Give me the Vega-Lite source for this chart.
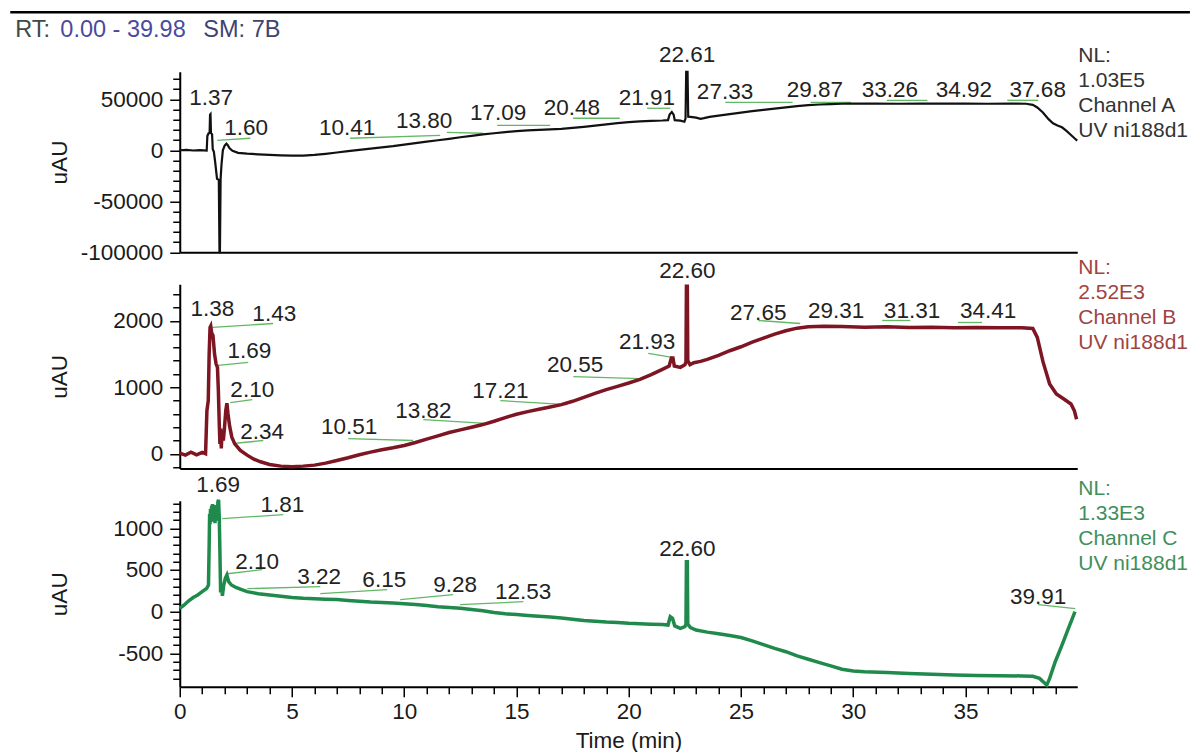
{
  "$schema": "https://vega.github.io/schema/vega-lite/v6.json",
  "background": "white",
  "padding": {"left": 8.75, "top": 10.75, "right": 0, "bottom": 0},
  "bounds": "flush",
  "spacing": 31.5,
  "config": {
    "font": "Liberation Sans",
    "view": {"stroke": null},
    "axis": {
      "grid": false,
      "domainColor": "#000000",
      "domainWidth": 2,
      "tickColor": "#000000",
      "tickWidth": 1.5,
      "labelFont": "Liberation Sans",
      "labelFontSize": 22.5,
      "labelColor": "#1a1a1a",
      "labelOverlap": false,
      "labelFlush": false,
      "titleFont": "Liberation Sans",
      "titleFontSize": 22.5,
      "titleFontWeight": "normal",
      "titleColor": "#1a1a1a"
    },
    "text": {"font": "Liberation Sans"}
  },
  "datasets": {
    "trA": [
      {"t":0,"v":0},{"t":0.3,"v":400},{"t":0.6,"v":-200},{"t":0.9,"v":200},{"t":1.2,"v":-300},{"t":1.23,"v":14000},{"t":1.28,"v":16500},{"t":1.33,"v":17000},{"t":1.35,"v":35000},{"t":1.37,"v":35500},{"t":1.39,"v":17000},{"t":1.44,"v":15500},{"t":1.47,"v":1000},{"t":1.52,"v":-1500},{"t":1.58,"v":-12000},{"t":1.66,"v":-28000},{"t":1.74,"v":-29000},{"t":1.77,"v":-100000},{"t":1.79,"v":-100000},{"t":1.82,"v":-28000},{"t":1.86,"v":-14000},{"t":1.92,"v":0},{"t":2.0,"v":4500},{"t":2.08,"v":6500},{"t":2.14,"v":5000},{"t":2.22,"v":2000},{"t":2.35,"v":-500},{"t":2.6,"v":-2500},{"t":3.0,"v":-3300},{"t":3.5,"v":-4000},{"t":4.0,"v":-4600},{"t":4.5,"v":-5000},{"t":5.0,"v":-5300},{"t":5.5,"v":-5200},{"t":6.0,"v":-4600},{"t":6.5,"v":-3500},{"t":7.0,"v":-2200},{"t":7.5,"v":-900},{"t":8.0,"v":400},{"t":8.5,"v":1700},{"t":9.0,"v":2800},{"t":9.5,"v":4000},{"t":10.0,"v":5500},{"t":10.5,"v":7000},{"t":11.0,"v":8500},{"t":11.5,"v":9800},{"t":12.0,"v":11200},{"t":12.5,"v":12800},{"t":13.0,"v":14200},{"t":13.5,"v":15500},{"t":14.0,"v":16700},{"t":14.5,"v":17800},{"t":15.0,"v":18800},{"t":15.5,"v":19500},{"t":16.0,"v":20000},{"t":16.5,"v":20500},{"t":17.0,"v":21000},{"t":17.5,"v":21900},{"t":18.0,"v":23000},{"t":18.5,"v":24200},{"t":19.0,"v":25400},{"t":19.5,"v":26700},{"t":20.0,"v":27600},{"t":20.5,"v":28300},{"t":21.0,"v":28800},{"t":21.5,"v":29200},{"t":21.75,"v":29600},{"t":21.82,"v":35000},{"t":21.92,"v":37500},{"t":22.0,"v":35000},{"t":22.05,"v":29500},{"t":22.3,"v":29000},{"t":22.48,"v":28000},{"t":22.53,"v":31000},{"t":22.56,"v":77000},{"t":22.62,"v":77000},{"t":22.65,"v":33000},{"t":22.75,"v":32800},{"t":23.0,"v":32000},{"t":23.2,"v":30800},{"t":23.35,"v":31500},{"t":23.6,"v":32800},{"t":24.0,"v":34000},{"t":24.5,"v":35500},{"t":25.0,"v":37000},{"t":25.5,"v":38300},{"t":26.0,"v":39600},{"t":26.5,"v":40800},{"t":27.0,"v":42000},{"t":27.5,"v":43300},{"t":28.0,"v":44300},{"t":28.5,"v":44900},{"t":29.0,"v":45300},{"t":29.5,"v":45600},{"t":30.0,"v":45700},{"t":31.0,"v":45800},{"t":32.0,"v":45600},{"t":33.0,"v":45800},{"t":34.0,"v":45700},{"t":35.0,"v":45800},{"t":36.0,"v":45600},{"t":37.0,"v":45700},{"t":37.7,"v":45600},{"t":38.0,"v":44500},{"t":38.2,"v":42000},{"t":38.45,"v":37000},{"t":38.7,"v":30500},{"t":38.9,"v":26500},{"t":39.1,"v":24300},{"t":39.3,"v":22500},{"t":39.5,"v":19000},{"t":39.7,"v":15000},{"t":39.87,"v":11500},{"t":39.98,"v":9500}
    ],
    "trB": [
      {"t":0,"v":10},{"t":0.25,"v":-20},{"t":0.5,"v":25},{"t":0.75,"v":-15},{"t":1.0,"v":20},{"t":1.15,"v":0},{"t":1.21,"v":650},{"t":1.27,"v":800},{"t":1.31,"v":1500},{"t":1.35,"v":1900},{"t":1.38,"v":1920},{"t":1.42,"v":1820},{"t":1.48,"v":1780},{"t":1.55,"v":1500},{"t":1.62,"v":1350},{"t":1.68,"v":1300},{"t":1.72,"v":950},{"t":1.76,"v":450},{"t":1.79,"v":150},{"t":1.82,"v":380},{"t":1.85,"v":80},{"t":1.89,"v":350},{"t":1.94,"v":200},{"t":1.99,"v":380},{"t":2.05,"v":650},{"t":2.1,"v":760},{"t":2.15,"v":600},{"t":2.22,"v":420},{"t":2.32,"v":250},{"t":2.45,"v":150},{"t":2.7,"v":50},{"t":3.0,"v":-20},{"t":3.3,"v":-80},{"t":3.6,"v":-120},{"t":4.0,"v":-160},{"t":4.5,"v":-185},{"t":5.0,"v":-195},{"t":5.5,"v":-185},{"t":6.0,"v":-170},{"t":6.5,"v":-140},{"t":7.0,"v":-100},{"t":7.5,"v":-60},{"t":8.0,"v":-15},{"t":8.5,"v":25},{"t":9.0,"v":60},{"t":9.5,"v":90},{"t":10.0,"v":125},{"t":10.5,"v":170},{"t":11.0,"v":220},{"t":11.5,"v":270},{"t":12.0,"v":320},{"t":12.5,"v":360},{"t":13.0,"v":400},{"t":13.5,"v":440},{"t":14.0,"v":490},{"t":14.5,"v":545},{"t":15.0,"v":595},{"t":15.5,"v":635},{"t":16.0,"v":670},{"t":16.5,"v":705},{"t":17.0,"v":740},{"t":17.5,"v":790},{"t":18.0,"v":850},{"t":18.5,"v":910},{"t":19.0,"v":965},{"t":19.5,"v":1015},{"t":20.0,"v":1065},{"t":20.5,"v":1120},{"t":21.0,"v":1190},{"t":21.5,"v":1270},{"t":21.8,"v":1320},{"t":21.9,"v":1440},{"t":21.97,"v":1440},{"t":22.03,"v":1320},{"t":22.3,"v":1300},{"t":22.5,"v":1340},{"t":22.55,"v":1380},{"t":22.57,"v":2520},{"t":22.61,"v":2520},{"t":22.63,"v":1400},{"t":22.73,"v":1340},{"t":22.9,"v":1370},{"t":23.2,"v":1390},{"t":23.5,"v":1420},{"t":24.0,"v":1480},{"t":24.5,"v":1550},{"t":25.0,"v":1610},{"t":25.5,"v":1680},{"t":26.0,"v":1740},{"t":26.5,"v":1800},{"t":27.0,"v":1850},{"t":27.5,"v":1890},{"t":28.0,"v":1910},{"t":28.7,"v":1920},{"t":29.5,"v":1915},{"t":30.5,"v":1905},{"t":31.5,"v":1910},{"t":32.5,"v":1900},{"t":33.5,"v":1905},{"t":34.5,"v":1895},{"t":35.5,"v":1900},{"t":36.5,"v":1895},{"t":37.5,"v":1895},{"t":38.0,"v":1885},{"t":38.2,"v":1750},{"t":38.45,"v":1390},{"t":38.75,"v":1050},{"t":39.05,"v":900},{"t":39.4,"v":820},{"t":39.7,"v":750},{"t":39.85,"v":650},{"t":39.95,"v":520}
    ],
    "trC": [
      {"t":0,"v":40},{"t":0.2,"v":80},{"t":0.4,"v":130},{"t":0.6,"v":170},{"t":0.8,"v":200},{"t":1.0,"v":240},{"t":1.2,"v":280},{"t":1.28,"v":320},{"t":1.31,"v":800},{"t":1.33,"v":1170},{"t":1.35,"v":1050},{"t":1.37,"v":1230},{"t":1.39,"v":1080},{"t":1.42,"v":1270},{"t":1.44,"v":1100},{"t":1.46,"v":1290},{"t":1.48,"v":1080},{"t":1.5,"v":1250},{"t":1.52,"v":1100},{"t":1.55,"v":1280},{"t":1.57,"v":1060},{"t":1.6,"v":1240},{"t":1.62,"v":1090},{"t":1.65,"v":1260},{"t":1.67,"v":1120},{"t":1.7,"v":1320},{"t":1.73,"v":1340},{"t":1.76,"v":1130},{"t":1.79,"v":700},{"t":1.82,"v":230},{"t":1.86,"v":320},{"t":1.9,"v":190},{"t":1.96,"v":320},{"t":2.03,"v":400},{"t":2.1,"v":440},{"t":2.18,"v":360},{"t":2.3,"v":320},{"t":2.5,"v":290},{"t":2.7,"v":270},{"t":3.0,"v":240},{"t":3.5,"v":215},{"t":4.0,"v":200},{"t":4.5,"v":185},{"t":5.0,"v":170},{"t":5.5,"v":160},{"t":6.0,"v":155},{"t":6.5,"v":150},{"t":7.0,"v":145},{"t":7.5,"v":135},{"t":8.0,"v":125},{"t":8.5,"v":115},{"t":9.0,"v":110},{"t":9.5,"v":105},{"t":10.0,"v":95},{"t":10.5,"v":85},{"t":11.0,"v":75},{"t":11.5,"v":60},{"t":12.0,"v":50},{"t":12.5,"v":40},{"t":13.0,"v":25},{"t":13.5,"v":10},{"t":14.0,"v":-10},{"t":14.5,"v":-25},{"t":15.0,"v":-35},{"t":15.5,"v":-45},{"t":16.0,"v":-55},{"t":16.5,"v":-65},{"t":17.0,"v":-75},{"t":17.5,"v":-90},{"t":18.0,"v":-105},{"t":18.5,"v":-115},{"t":19.0,"v":-125},{"t":19.5,"v":-130},{"t":20.0,"v":-140},{"t":20.5,"v":-145},{"t":21.0,"v":-150},{"t":21.5,"v":-155},{"t":21.75,"v":-160},{"t":21.85,"v":-60},{"t":21.95,"v":-80},{"t":22.05,"v":-170},{"t":22.3,"v":-200},{"t":22.5,"v":-180},{"t":22.55,"v":-150},{"t":22.57,"v":600},{"t":22.61,"v":600},{"t":22.63,"v":-150},{"t":22.75,"v":-190},{"t":23.0,"v":-220},{"t":23.5,"v":-245},{"t":24.0,"v":-265},{"t":24.5,"v":-285},{"t":25.0,"v":-310},{"t":25.5,"v":-350},{"t":26.0,"v":-395},{"t":26.5,"v":-440},{"t":27.0,"v":-480},{"t":27.5,"v":-530},{"t":28.0,"v":-570},{"t":28.5,"v":-610},{"t":29.0,"v":-650},{"t":29.5,"v":-690},{"t":30.0,"v":-710},{"t":30.5,"v":-720},{"t":31.5,"v":-730},{"t":32.5,"v":-740},{"t":33.5,"v":-750},{"t":34.5,"v":-760},{"t":35.5,"v":-765},{"t":36.5,"v":-768},{"t":37.5,"v":-770},{"t":38.0,"v":-775},{"t":38.3,"v":-800},{"t":38.5,"v":-850},{"t":38.62,"v":-880},{"t":38.75,"v":-800},{"t":39.0,"v":-600},{"t":39.3,"v":-400},{"t":39.6,"v":-190},{"t":39.88,"v":0}
    ],
    "lab": [
      {"p":"A","t":1.40,"v":51000,"text":"1.37"},
      {"p":"A","t":2.96,"v":21600,"text":"1.60"},
      {"p":"A","t":7.46,"v":21600,"text":"10.41"},
      {"p":"A","t":10.89,"v":28400,"text":"13.80"},
      {"p":"A","t":14.18,"v":36300,"text":"17.09"},
      {"p":"A","t":17.47,"v":41200,"text":"20.48"},
      {"p":"A","t":20.81,"v":51000,"text":"21.91"},
      {"p":"A","t":22.60,"v":93100,"text":"22.61"},
      {"p":"A","t":24.29,"v":56900,"text":"27.33"},
      {"p":"A","t":28.29,"v":58800,"text":"29.87"},
      {"p":"A","t":31.63,"v":58800,"text":"33.26"},
      {"p":"A","t":34.93,"v":58800,"text":"34.92"},
      {"p":"A","t":38.22,"v":58800,"text":"37.68"},
      {"p":"B","t":1.45,"v":2185,"text":"1.38"},
      {"p":"B","t":4.21,"v":2110,"text":"1.43"},
      {"p":"B","t":3.10,"v":1540,"text":"1.69"},
      {"p":"B","t":3.23,"v":955,"text":"2.10"},
      {"p":"B","t":3.67,"v":335,"text":"2.34"},
      {"p":"B","t":7.55,"v":410,"text":"10.51"},
      {"p":"B","t":10.85,"v":650,"text":"13.82"},
      {"p":"B","t":14.28,"v":950,"text":"17.21"},
      {"p":"B","t":17.61,"v":1330,"text":"20.55"},
      {"p":"B","t":20.82,"v":1675,"text":"21.93"},
      {"p":"B","t":22.61,"v":2755,"text":"22.60"},
      {"p":"B","t":25.77,"v":2125,"text":"27.65"},
      {"p":"B","t":29.24,"v":2155,"text":"29.31"},
      {"p":"B","t":32.62,"v":2155,"text":"31.31"},
      {"p":"B","t":36.01,"v":2155,"text":"34.41"},
      {"p":"C","t":1.71,"v":1517,"text":"1.69"},
      {"p":"C","t":4.57,"v":1283,"text":"1.81"},
      {"p":"C","t":3.45,"v":600,"text":"2.10"},
      {"p":"C","t":6.21,"v":420,"text":"3.22"},
      {"p":"C","t":9.11,"v":384,"text":"6.15"},
      {"p":"C","t":12.27,"v":324,"text":"9.28"},
      {"p":"C","t":15.30,"v":240,"text":"12.53"},
      {"p":"C","t":22.61,"v":755,"text":"22.60"},
      {"p":"C","t":38.24,"v":180,"text":"39.91"}
    ],
    "base": [
      {"p":"A","t":1.67,"v":9800,"t2":3.14,"v2":11800},
      {"p":"A","t":7.59,"v":11800,"t2":11.6,"v2":14700},
      {"p":"A","t":11.9,"v":17600,"t2":13.5,"v2":16700},
      {"p":"A","t":14.14,"v":24500,"t2":16.5,"v2":24500},
      {"p":"A","t":17.52,"v":31400,"t2":19.6,"v2":31400},
      {"p":"A","t":20.82,"v":41200,"t2":21.85,"v2":41200},
      {"p":"A","t":24.3,"v":47000,"t2":27.3,"v2":47000},
      {"p":"A","t":28.1,"v":47000,"t2":29.9,"v2":47000},
      {"p":"A","t":31.5,"v":49000,"t2":33.3,"v2":49000},
      {"p":"A","t":36.86,"v":49000,"t2":38.24,"v2":49000},
      {"p":"B","t":1.45,"v":1900,"t2":4.16,"v2":1960},
      {"p":"B","t":1.71,"v":1330,"t2":3.05,"v2":1375},
      {"p":"B","t":2.25,"v":770,"t2":3.23,"v2":815},
      {"p":"B","t":2.38,"v":155,"t2":3.72,"v2":200},
      {"p":"B","t":7.51,"v":230,"t2":10.4,"v2":200},
      {"p":"B","t":10.85,"v":515,"t2":13.83,"v2":455},
      {"p":"B","t":14.28,"v":800,"t2":17.26,"v2":740},
      {"p":"B","t":17.53,"v":1160,"t2":20.51,"v2":1130},
      {"p":"B","t":20.87,"v":1510,"t2":21.94,"v2":1450},
      {"p":"B","t":25.77,"v":2005,"t2":27.64,"v2":1960},
      {"p":"B","t":31.29,"v":2005,"t2":32.54,"v2":2005},
      {"p":"B","t":34.67,"v":1975,"t2":35.74,"v2":1975},
      {"p":"C","t":1.89,"v":1115,"t2":4.61,"v2":1163},
      {"p":"C","t":2.12,"v":455,"t2":3.67,"v2":504},
      {"p":"C","t":3.01,"v":276,"t2":6.26,"v2":300},
      {"p":"C","t":6.26,"v":216,"t2":9.24,"v2":264},
      {"p":"C","t":9.82,"v":144,"t2":12.18,"v2":204},
      {"p":"C","t":12.49,"v":84,"t2":15.3,"v2":120},
      {"p":"C","t":38.24,"v":84,"t2":39.89,"v2":36}
    ]
  },
  "vconcat": [
    {
      "width": 897.5,
      "height": 180.5,
      "encoding": {
        "x": {"type": "quantitative",
              "scale": {"domain": [0, 39.98], "nice": false, "zero": false},
              "axis": {"labels": false, "ticks": false, "title": null}},
        "y": {"type": "quantitative",
              "scale": {"domain": [-100000, 77000], "nice": false, "zero": false},
              "axis": {
                "values": [-100000,-90000,-80000,-70000,-60000,-50000,-40000,-30000,-20000,-10000,0,10000,20000,30000,40000,50000,60000,70000],
                "labelExpr": "datum.value % 50000 === 0 ? toString(datum.value) : ''",
                "tickSize": {"condition": {"test": "datum.value % 50000 === 0", "value": 10}, "value": 7},
                "labelPadding": 7,
                "title": "uAU", "titleX": -120.5, "titleBaseline": "middle"
              }}
      },
      "layer": [
        {"data": {"name": "base"}, "transform": [{"filter": "datum.p === 'A'"}],
         "mark": {"type": "rule", "color": "#62b864", "strokeWidth": 1.3},
         "encoding": {"x": {"field": "t"}, "y": {"field": "v"}, "x2": {"field": "t2"}, "y2": {"field": "v2"}}},
        {"data": {"name": "trA"}, "mark": {"type": "line", "color": "#111111", "strokeWidth": 2.2},
         "encoding": {"x": {"field": "t"}, "y": {"field": "v"}}},
        {"data": {"name": "lab"}, "transform": [{"filter": "datum.p === 'A'"}],
         "mark": {"type": "text", "fontSize": 22.5, "color": "#222222", "align": "center", "baseline": "middle"},
         "encoding": {"x": {"field": "t"}, "y": {"field": "v"}, "text": {"field": "text"}}},
        {"data": {"values": [{}]},
         "mark": {"type": "text", "align": "left", "baseline": "top", "dx": 1, "dy": -27, "lineHeight": 25, "fontSize": 21, "color": "#333333"},
         "encoding": {"x": {"datum": 39.98}, "y": {"datum": 77000}, "text": {"value": ["NL:", "1.03E5", "Channel A", "UV ni188d1"]}}},
        {"data": {"values": [{}]},
         "mark": {"type": "rule", "color": "#000000", "strokeWidth": 2.5},
         "encoding": {"x": {"datum": -7.55}, "x2": {"datum": 45.0}, "y": {"datum": 135330}}},
        {"data": {"values": [{}]},
         "mark": {"type": "text", "align": "left", "baseline": "alphabetic", "fontSize": 23.5, "color": "#3d4a4a"},
         "encoding": {"x": {"datum": -7.33}, "y": {"datum": 110820}, "text": {"value": "RT:"}}},
        {"data": {"values": [{}]},
         "mark": {"type": "text", "align": "left", "baseline": "alphabetic", "fontSize": 23.5, "color": "#4a4a9e"},
         "encoding": {"x": {"datum": -5.32}, "y": {"datum": 110820}, "text": {"value": "0.00 - 39.98"}}},
        {"data": {"values": [{}]},
         "mark": {"type": "text", "align": "left", "baseline": "alphabetic", "fontSize": 23.5, "color": "#3e4470"},
         "encoding": {"x": {"datum": 1.05}, "y": {"datum": 110820}, "text": {"value": "SM: 7B"}}}
      ]
    },
    {
      "width": 897.5,
      "height": 184.2,
      "encoding": {
        "x": {"type": "quantitative",
              "scale": {"domain": [0, 39.98], "nice": false, "zero": false},
              "axis": {"labels": false, "ticks": false, "title": null}},
        "y": {"type": "quantitative",
              "scale": {"domain": [-220, 2550], "nice": false, "zero": false},
              "axis": {
                "values": [-200,0,200,400,600,800,1000,1200,1400,1600,1800,2000,2200,2400],
                "labelExpr": "datum.value % 1000 === 0 ? toString(datum.value) : ''",
                "tickSize": {"condition": {"test": "datum.value % 1000 === 0", "value": 10}, "value": 7},
                "labelPadding": 7,
                "title": "uAU", "titleX": -120.5, "titleBaseline": "middle"
              }}
      },
      "layer": [
        {"data": {"name": "base"}, "transform": [{"filter": "datum.p === 'B'"}],
         "mark": {"type": "rule", "color": "#62b864", "strokeWidth": 1.3},
         "encoding": {"x": {"field": "t"}, "y": {"field": "v"}, "x2": {"field": "t2"}, "y2": {"field": "v2"}}},
        {"data": {"name": "trB"}, "mark": {"type": "line", "color": "#7d1522", "strokeWidth": 3.5},
         "encoding": {"x": {"field": "t"}, "y": {"field": "v"}}},
        {"data": {"name": "lab"}, "transform": [{"filter": "datum.p === 'B'"}],
         "mark": {"type": "text", "fontSize": 22.5, "color": "#222222", "align": "center", "baseline": "middle"},
         "encoding": {"x": {"field": "t"}, "y": {"field": "v"}, "text": {"field": "text"}}},
        {"data": {"values": [{}]},
         "mark": {"type": "text", "align": "left", "baseline": "top", "dx": 1, "dy": -27, "lineHeight": 25, "fontSize": 21, "color": "#a0443f"},
         "encoding": {"x": {"datum": 39.98}, "y": {"datum": 2550}, "text": {"value": ["NL:", "2.52E3", "Channel B", "UV ni188d1"]}}}
      ]
    },
    {
      "width": 897.5,
      "height": 186,
      "encoding": {
        "x": {"type": "quantitative",
              "scale": {"domain": [0, 39.98], "nice": false, "zero": false},
              "axis": {
                "values": [0,1,2,3,4,5,6,7,8,9,10,11,12,13,14,15,16,17,18,19,20,21,22,23,24,25,26,27,28,29,30,31,32,33,34,35,36,37,38,39],
                "labelExpr": "datum.value % 5 === 0 ? datum.label : ''",
                "tickSize": {"condition": {"test": "datum.value % 5 === 0", "value": 10}, "value": 7},
                "labelPadding": 4,
                "title": "Time (min)", "titlePadding": 6
              }},
        "y": {"type": "quantitative",
              "scale": {"domain": [-900, 1330], "nice": false, "zero": false},
              "axis": {
                "values": [-800,-700,-600,-500,-400,-300,-200,-100,0,100,200,300,400,500,600,700,800,900,1000,1100,1200,1300],
                "labelExpr": "datum.value % 500 === 0 ? toString(datum.value) : ''",
                "tickSize": {"condition": {"test": "datum.value % 500 === 0", "value": 10}, "value": 7},
                "labelPadding": 7,
                "title": "uAU", "titleX": -120.5, "titleBaseline": "middle"
              }}
      },
      "layer": [
        {"data": {"name": "base"}, "transform": [{"filter": "datum.p === 'C'"}],
         "mark": {"type": "rule", "color": "#62b864", "strokeWidth": 1.3},
         "encoding": {"x": {"field": "t"}, "y": {"field": "v"}, "x2": {"field": "t2"}, "y2": {"field": "v2"}}},
        {"data": {"name": "trC"}, "mark": {"type": "line", "color": "#1f8a4c", "strokeWidth": 3.5},
         "encoding": {"x": {"field": "t"}, "y": {"field": "v"}}},
        {"data": {"name": "lab"}, "transform": [{"filter": "datum.p === 'C'"}],
         "mark": {"type": "text", "fontSize": 22.5, "color": "#222222", "align": "center", "baseline": "middle"},
         "encoding": {"x": {"field": "t"}, "y": {"field": "v"}, "text": {"field": "text"}}},
        {"data": {"values": [{}]},
         "mark": {"type": "text", "align": "left", "baseline": "top", "dx": 1, "dy": -23, "lineHeight": 25, "fontSize": 21, "color": "#3f8f5c"},
         "encoding": {"x": {"datum": 39.98}, "y": {"datum": 1330}, "text": {"value": ["NL:", "1.33E3", "Channel C", "UV ni188d1"]}}}
      ]
    }
  ]
}
